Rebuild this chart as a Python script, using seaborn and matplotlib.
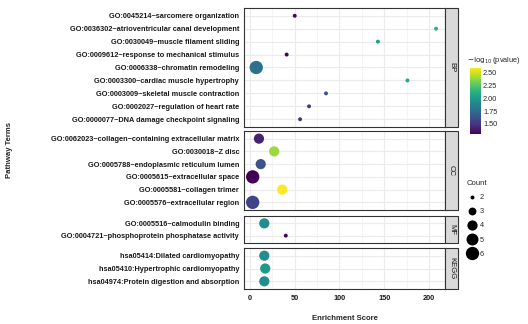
import matplotlib

matplotlib.use("Agg")
import matplotlib.pyplot as plt
import matplotlib.colors as mcolors
from matplotlib.lines import Line2D
from matplotlib.patches import Rectangle
import pandas as pd
import seaborn as sns

# terms listed top to bottom inside each facet
bp_terms = [
    "GO:0045214~sarcomere organization",
    "GO:0036302~atrioventricular canal development",
    "GO:0030049~muscle filament sliding",
    "GO:0009612~response to mechanical stimulus",
    "GO:0006338~chromatin remodeling",
    "GO:0003300~cardiac muscle hypertrophy",
    "GO:0003009~skeletal muscle contraction",
    "GO:0002027~regulation of heart rate",
    "GO:0000077~DNA damage checkpoint signaling",
]
bp_score = [50, 208, 143, 41, 7, 176, 85, 66, 56]
bp_logp = [1.32, 2.13, 2.02, 1.32, 1.78, 2.08, 1.63, 1.52, 1.48]
bp_count = [2, 2, 2, 2, 6, 2, 2, 2, 2]

cc_terms = [
    "GO:0062023~collagen\u2212containing extracellular matrix",
    "GO:0030018~Z disc",
    "GO:0005788~endoplasmic reticulum lumen",
    "GO:0005615~extracellular space",
    "GO:0005581~collagen trimer",
    "GO:0005576~extracellular region",
]
cc_score = [10, 27, 12, 3, 36, 3]
cc_logp = [1.43, 2.40, 1.63, 1.31, 2.59, 1.57]
cc_count = [4, 4, 4, 6, 4, 6]

mf_terms = [
    "GO:0005516~calmodulin binding",
    "GO:0004721~phosphoprotein phosphatase activity",
]
mf_score = [16, 40]
mf_logp = [1.93, 1.32]
mf_count = [4, 2]

kegg_terms = [
    "hsa05414:Dilated cardiomyopathy",
    "hsa05410:Hypertrophic cardiomyopathy",
    "hsa04974:Protein digestion and absorption",
]
kegg_score = [16, 17, 16]
kegg_logp = [1.93, 2.00, 1.93]
kegg_count = [4, 4, 4]

categories = ["BP", "CC", "MF", "KEGG"]
x_ticks = [0, 50, 100, 150, 200]
count_levels = [2, 3, 4, 5, 6]
cbar_ticks = [1.50, 1.75, 2.00, 2.25, 2.50]

frames = []
for cat, terms, score, logp, count in [
    ("BP", bp_terms, bp_score, bp_logp, bp_count),
    ("CC", cc_terms, cc_score, cc_logp, cc_count),
    ("MF", mf_terms, mf_score, mf_logp, mf_count),
    ("KEGG", kegg_terms, kegg_score, kegg_logp, kegg_count),
]:
    frames.append(pd.DataFrame({"category": cat, "term": terms, "score": score,
                                "logp": logp, "count": count}))
df = pd.concat(frames, ignore_index=True)

sns.set_style("white")
plt.rcParams["font.family"] = ["Liberation Sans", "DejaVu Sans"]

W, H = 528, 324
fig = plt.figure(figsize=(W / 100, H / 100), dpi=100)

hue_norm = (1.305, 2.59)
size_map = {2: 8, 3: 32, 4: 54, 5: 74, 6: 92}
border = "#333333"

# panel extents in pixels (top, bottom)
panels = {"BP": (8, 127), "CC": (131, 210), "MF": (216, 243), "KEGG": (248, 289)}
left_px, right_px, strip_px = 244, 445, 458

axes = []
for cat in categories:
    top, bot = panels[cat]
    ax = fig.add_axes([left_px / W, 1 - bot / H, (right_px - left_px) / W, (bot - top) / H])
    sub = df[df["category"] == cat]
    n = len(sub)
    ax.set_xlim(-6.7, 218)
    ax.set_xticks(x_ticks)
    ax.set_xticks([25, 75, 125, 175], minor=True)
    ax.grid(True, which="major", color="#ebebeb", lw=0.8)
    ax.grid(True, which="minor", axis="x", color="#f2f2f2", lw=0.5)
    ax.set_axisbelow(True)
    sns.scatterplot(data=sub, x="score", y="term", hue="logp", size="count",
                    palette="viridis", hue_norm=hue_norm, sizes=size_map,
                    size_order=count_levels, edgecolor="none", linewidth=0,
                    legend=False, ax=ax, zorder=3)
    ax.set_ylim(n - 1 + 0.6, -0.6)
    ax.set_xlabel("")
    ax.set_ylabel("")
    for s in ax.spines.values():
        s.set_color(border)
        s.set_linewidth(0.8)
    ax.tick_params(axis="both", which="major", length=2, width=0.5, color=border,
                   labelsize=5.3, pad=1.5)
    ax.tick_params(axis="both", which="minor", length=0)
    for lab in ax.get_yticklabels():
        lab.set_fontweight("bold")
        lab.set_color("#1a1a1a")
    if cat != "KEGG":
        ax.tick_params(axis="x", labelbottom=False, length=0)
    else:
        ax.tick_params(axis="x", pad=2.5)
        for lab in ax.get_xticklabels():
            lab.set_fontweight("bold")
            lab.set_color("#1a1a1a")

    # facet strip on the right
    fig.patches.append(Rectangle((right_px / W, 1 - bot / H), (strip_px - right_px) / W,
                                 (bot - top) / H, transform=fig.transFigure,
                                 facecolor="#d9d9d9", edgecolor=border, lw=0.8))
    fig.text((right_px + strip_px) / 2 / W, 1 - (top + bot) / 2 / H, cat,
             rotation=-90, ha="center", va="center", fontsize=5.6, color="#1a1a1a")
    axes.append(ax)

fig.text((left_px + right_px) / 2 / W, 1 - 318 / H, "Enrichment Score",
         ha="center", va="center", fontsize=5.6, fontweight="bold")
fig.text(10 / W, 1 - 150 / H, "Pathway Terms", rotation=90,
         ha="center", va="center", fontsize=5.6, fontweight="bold")

# colour bar legend
cax = fig.add_axes([470 / W, 1 - 134 / H, 11 / W, 66 / H])
norm = mcolors.Normalize(*hue_norm)
cb = matplotlib.colorbar.ColorbarBase(cax, cmap="viridis", norm=norm)
cb.outline.set_visible(False)
cb.set_ticks(cbar_ticks)
cb.set_ticklabels([f"{t:.2f}" for t in cbar_ticks])
cax.tick_params(length=2, width=0.5, color="white", labelsize=5.3, pad=1.5, direction="in")
fig.text(467 / W, 1 - 60 / H, r"$-\log_{10}$(pvalue)", fontsize=5.3, va="center")

# size legend
handles = [Line2D([], [], marker="o", linestyle="", color="black",
                  markersize=size_map[c] ** 0.5, markeredgewidth=0) for c in count_levels]
leg = fig.legend(handles, [str(c) for c in count_levels], title="Count",
                 loc="upper left", bbox_to_anchor=(464 / W, 1 - 177 / H), frameon=False,
                 fontsize=5.3, title_fontsize=5.6, labelspacing=0.95, handletextpad=0.4,
                 borderaxespad=0, handlelength=1.3)
leg._legend_box.align = "left"

fig.savefig("out.png", dpi=100)
